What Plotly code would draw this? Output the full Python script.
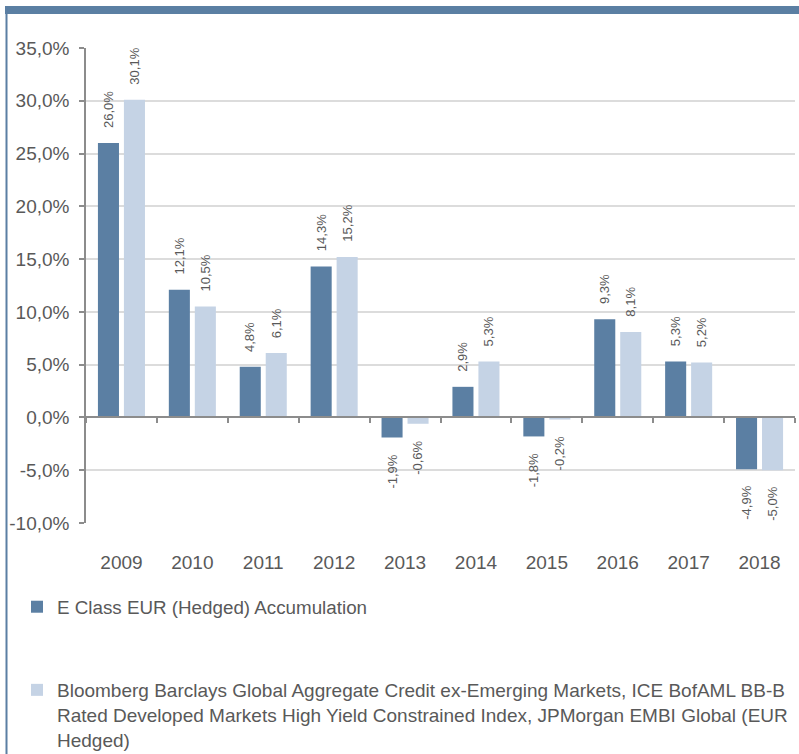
import plotly.graph_objects as go

years = ["2009", "2010", "2011", "2012", "2013", "2014", "2015", "2016", "2017", "2018"]
fund_values = [26.0, 12.1, 4.8, 14.3, -1.9, 2.9, -1.8, 9.3, 5.3, -4.9]
index_values = [30.1, 10.5, 6.1, 15.2, -0.6, 5.3, -0.2, 8.1, 5.2, -5.0]
fund_name = "E Class EUR (Hedged) Accumulation"
index_name = ("Bloomberg Barclays Global Aggregate Credit ex-Emerging Markets, ICE BofAML BB-B<br>"
              "Rated Developed Markets High Yield Constrained Index, JPMorgan EMBI Global (EUR<br>"
              "Hedged)")
y_tick_vals = [-10, -5, 0, 5, 10, 15, 20, 25, 30, 35]
y_tick_text = ["-10,0%", "-5,0%", "0,0%", "5,0%", "10,0%", "15,0%", "20,0%", "25,0%", "30,0%", "35,0%"]

DARK = "#5B7FA3"
LIGHT = "#C5D3E5"
TXT = "#595959"
FONT = "Liberation Sans, Arial, sans-serif"

W, H = 799, 754
ML, MR, MT, MB = 86, 4, 48, 231
PW, PH = W - ML - MR, H - MT - MB
YMIN, YMAX = -10, 35


def px_x(p):
    return (p - ML) / PW


def px_y(p):
    return (H - MB - p) / PH


BARGAP = 0.267
GROUPGAP = 0.19
fig = go.Figure()
fig.add_trace(go.Bar(x=years, y=fund_values, name=fund_name, marker=dict(color=DARK, line=dict(width=0)),
                     legend="legend"))
fig.add_trace(go.Bar(x=years, y=index_values, name=index_name, marker=dict(color=LIGHT, line=dict(width=0)),
                     legend="legend2"))

offset_units = (1 - BARGAP) / 4
annotations = []
for vals, sign in ((fund_values, -1), (index_values, 1)):
    for j, v in enumerate(vals):
        annotations.append(dict(
            x=j + sign * offset_units, y=v, xref="x", yref="y", showarrow=False,
            text=f"{v:.1f}%".replace(".", ","), textangle=-90,
            yanchor="bottom" if v >= 0 else "top",
            yshift=13 if v >= 0 else -15,
            font=dict(family=FONT, size=13, color=TXT),
        ))

shapes = [
    dict(type="rect", xref="paper", yref="paper", x0=px_x(5), x1=px_x(W + 2), y0=px_y(14), y1=px_y(6),
         fillcolor=DARK, line=dict(width=0), layer="above"),
    dict(type="line", xref="paper", yref="paper", x0=px_x(6.5), x1=px_x(6.5), y0=px_y(6), y1=px_y(H + 5),
         line=dict(color=DARK, width=2), layer="above"),
]

fig.update_layout(
    width=W, height=H,
    margin=dict(l=ML, r=MR, t=MT, b=MB, pad=0, autoexpand=False),
    paper_bgcolor="white", plot_bgcolor="white",
    barmode="group", bargap=BARGAP, bargroupgap=GROUPGAP,
    font=dict(family=FONT, size=19, color=TXT),
    annotations=annotations, shapes=shapes,
    legend=dict(x=px_x(17), y=px_y(588), xanchor="left", yanchor="top",
                font=dict(family=FONT, size=18.8, color=TXT), bgcolor="rgba(0,0,0,0)", valign="top"),
    legend2=dict(x=px_x(17), y=px_y(671), xanchor="left", yanchor="top",
                 font=dict(family=FONT, size=19, color=TXT), bgcolor="rgba(0,0,0,0)", valign="top"),
    showlegend=True,
)
fig.update_xaxes(
    type="category", range=[-0.5, len(years) - 0.5], autorange=False, automargin=False,
    anchor="free", position=(0 - YMIN) / (YMAX - YMIN),
    showline=True, linecolor="#8C8C8C", linewidth=1.5,
    ticks="outside", tickson="boundaries", ticklen=5, tickcolor="#8C8C8C", tickwidth=1.5,
    showgrid=False, ticklabelstandoff=128, tickangle=0,
    tickfont=dict(family=FONT, size=19, color=TXT),
)
fig.update_yaxes(
    range=[YMIN, YMAX], autorange=False, automargin=False, tickvals=y_tick_vals, ticktext=y_tick_text,
    showline=True, linecolor="#8C8C8C", linewidth=1.5,
    ticks="outside", ticklen=5, tickcolor="#8C8C8C", tickwidth=1.5,
    showgrid=True, gridcolor="#DCDCDC", gridwidth=1.5, zeroline=False,
    ticklabelstandoff=6,
    tickfont=dict(family=FONT, size=19, color=TXT),
)

fig.write_html(
    "out.html",
    config={"displayModeBar": False},
    post_script="document.body.style.margin='0';document.body.style.overflow='hidden';",
)
